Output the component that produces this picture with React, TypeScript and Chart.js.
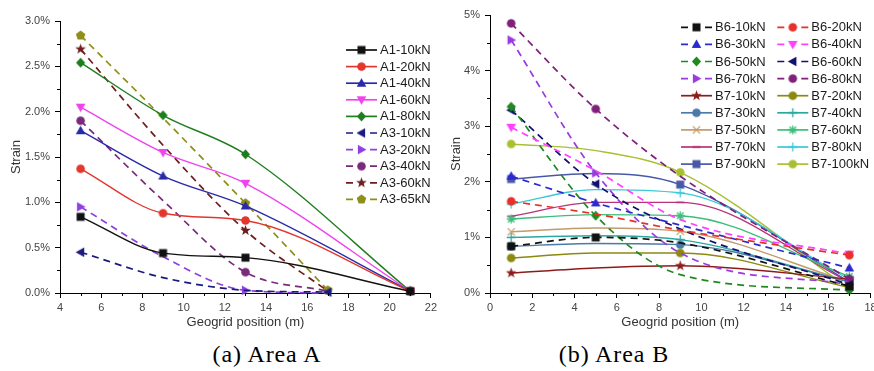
import React, { useEffect, useRef } from "react";
import { Chart, registerables } from "chart.js";

Chart.register(...registerables);

// ---------- Area A data ----------
const A1_POS = [5, 9, 13, 21];
const A3_POS = [5, 9, 13, 17];
const A1_10 = [0.84, 0.44, 0.39, 0.02];
const A1_20 = [1.37, 0.88, 0.8, 0.02];
const A1_40 = [1.79, 1.29, 0.96, 0.02];
const A1_60 = [2.05, 1.55, 1.21, 0.02];
const A1_80 = [2.54, 1.96, 1.53, 0.02];
const A3_10 = [0.45, 0.17, 0.03, 0.01];
const A3_20 = [0.95, 0.4, 0.03, 0.0];
const A3_40 = [1.9, 1.02, 0.23, 0.02];
const A3_60 = [2.69, 1.63, 0.69, 0.02];
const A3_65 = [2.84, 1.93, 0.99, 0.03];
const A_X_TICKS = { min: 4, max: 22, step: 2, minor: 1 };
const A_Y_TICKS = { min: 0, max: 3, step: 0.5, minor: 0.25 };

// ---------- Area B data ----------
const B_POS = [1, 5, 9, 17];
const B6_10 = [0.84, 1.0, 0.9, 0.12];
const B6_20 = [1.65, 1.42, 1.13, 0.68];
const B6_30 = [2.1, 1.62, 1.22, 0.45];
const B6_40 = [2.98, 2.2, 1.32, 0.7];
const B6_50 = [3.35, 1.39, 0.33, 0.05];
const B6_60 = [3.29, 1.96, 1.15, 0.15];
const B6_70 = [4.55, 2.16, 0.72, 0.15];
const B6_80 = [4.85, 3.31, 2.1, 0.25];
const B7_10 = [0.36, 0.45, 0.49, 0.25];
const B7_20 = [0.63, 0.72, 0.72, 0.1];
const B7_30 = [0.84, 0.89, 0.87, 0.2];
const B7_40 = [1.0, 1.03, 0.96, 0.2];
const B7_50 = [1.1, 1.17, 1.11, 0.2];
const B7_60 = [1.33, 1.41, 1.39, 0.3];
const B7_70 = [1.38, 1.63, 1.63, 0.2];
const B7_80 = [1.6, 1.86, 1.8, 0.25];
const B7_90 = [2.05, 2.15, 1.95, 0.2];
const B7_100 = [2.68, 2.56, 2.17, 0.08];
const B_X_TICKS = { min: 0, max: 18, step: 2, minor: 1 };
const B_Y_TICKS = { min: 0, max: 5, step: 1, minor: 0.5 };

type Series = {
  label: string;
  xs: number[];
  ys: number[];
  color: string;
  marker: string;
  dashed: boolean;
  hidden: number[];
};

const A_SERIES: Series[] = [
  { label: "A1-10kN", xs: A1_POS, ys: A1_10, color: "#111111", marker: "square", dashed: false, hidden: [] },
  { label: "A1-20kN", xs: A1_POS, ys: A1_20, color: "#e2362e", marker: "circle", dashed: false, hidden: [] },
  { label: "A1-40kN", xs: A1_POS, ys: A1_40, color: "#2a2aa8", marker: "triUp", dashed: false, hidden: [] },
  { label: "A1-60kN", xs: A1_POS, ys: A1_60, color: "#ee44ee", marker: "triDown", dashed: false, hidden: [] },
  { label: "A1-80kN", xs: A1_POS, ys: A1_80, color: "#1e7e1e", marker: "diamond", dashed: false, hidden: [] },
  { label: "A3-10kN", xs: A3_POS, ys: A3_10, color: "#1a1a80", marker: "triLeft", dashed: true, hidden: [1, 2] },
  { label: "A3-20kN", xs: A3_POS, ys: A3_20, color: "#9040e0", marker: "triRight", dashed: true, hidden: [1, 3] },
  { label: "A3-40kN", xs: A3_POS, ys: A3_40, color: "#7a2a7a", marker: "circle", dashed: true, hidden: [1, 3] },
  { label: "A3-60kN", xs: A3_POS, ys: A3_60, color: "#6e1e1e", marker: "star", dashed: true, hidden: [1, 3] },
  { label: "A3-65kN", xs: A3_POS, ys: A3_65, color: "#8e8e1a", marker: "pentagon", dashed: true, hidden: [1] },
];

const B_SERIES: Series[] = [
  { label: "B6-10kN", xs: B_POS, ys: B6_10, color: "#111111", marker: "square", dashed: true, hidden: [2] },
  { label: "B6-20kN", xs: B_POS, ys: B6_20, color: "#e8302a", marker: "circle", dashed: true, hidden: [1, 2] },
  { label: "B6-30kN", xs: B_POS, ys: B6_30, color: "#2a2ad0", marker: "triUp", dashed: true, hidden: [2] },
  { label: "B6-40kN", xs: B_POS, ys: B6_40, color: "#ff40ff", marker: "triDown", dashed: true, hidden: [1, 2] },
  { label: "B6-50kN", xs: B_POS, ys: B6_50, color: "#1f8a1f", marker: "diamond", dashed: true, hidden: [2] },
  { label: "B6-60kN", xs: B_POS, ys: B6_60, color: "#10106e", marker: "triLeft", dashed: true, hidden: [2] },
  { label: "B6-70kN", xs: B_POS, ys: B6_70, color: "#9a3ae0", marker: "triRight", dashed: true, hidden: [2] },
  { label: "B6-80kN", xs: B_POS, ys: B6_80, color: "#80207a", marker: "circle", dashed: true, hidden: [2] },
  { label: "B7-10kN", xs: B_POS, ys: B7_10, color: "#8b1c1c", marker: "star", dashed: false, hidden: [1] },
  { label: "B7-20kN", xs: B_POS, ys: B7_20, color: "#8a8a10", marker: "circle", dashed: false, hidden: [1] },
  { label: "B7-30kN", xs: B_POS, ys: B7_30, color: "#4a7aa8", marker: "circle", dashed: false, hidden: [1] },
  { label: "B7-40kN", xs: B_POS, ys: B7_40, color: "#2aa8a0", marker: "plus", dashed: false, hidden: [1] },
  { label: "B7-50kN", xs: B_POS, ys: B7_50, color: "#c49a6a", marker: "x", dashed: false, hidden: [1] },
  { label: "B7-60kN", xs: B_POS, ys: B7_60, color: "#3cbf7a", marker: "asterisk", dashed: false, hidden: [1] },
  { label: "B7-70kN", xs: B_POS, ys: B7_70, color: "#b8337a", marker: "dash", dashed: false, hidden: [1] },
  { label: "B7-80kN", xs: B_POS, ys: B7_80, color: "#3cc8d8", marker: "plus", dashed: false, hidden: [1] },
  { label: "B7-90kN", xs: B_POS, ys: B7_90, color: "#4a58a8", marker: "square", dashed: false, hidden: [1] },
  { label: "B7-100kN", xs: B_POS, ys: B7_100, color: "#a8c030", marker: "circle", dashed: false, hidden: [1] },
];

// ---------- marker drawing ----------
function poly(g: CanvasRenderingContext2D, pts: number[][]) {
  g.beginPath();
  pts.forEach((p, i) => (i ? g.lineTo(p[0], p[1]) : g.moveTo(p[0], p[1])));
  g.closePath();
  g.fill();
}
function drawShape(g: CanvasRenderingContext2D, shape: string, color: string) {
  g.fillStyle = color;
  g.strokeStyle = color;
  g.lineWidth = 1.3;
  switch (shape) {
    case "square":
      g.fillRect(-4, -4, 8, 8);
      break;
    case "circle":
      g.beginPath();
      g.arc(0, 0, 4.3, 0, Math.PI * 2);
      g.fill();
      break;
    case "triUp":
      poly(g, [[0, -5], [4.8, 3.6], [-4.8, 3.6]]);
      break;
    case "triDown":
      poly(g, [[0, 5], [4.8, -3.6], [-4.8, -3.6]]);
      break;
    case "triLeft":
      poly(g, [[-5, 0], [3.6, -4.8], [3.6, 4.8]]);
      break;
    case "triRight":
      poly(g, [[5, 0], [-3.6, -4.8], [-3.6, 4.8]]);
      break;
    case "diamond":
      poly(g, [[0, -5], [4.6, 0], [0, 5], [-4.6, 0]]);
      break;
    case "star": {
      const pts: number[][] = [];
      for (let i = 0; i < 10; i++) {
        const r = i % 2 === 0 ? 5.6 : 2.3;
        const a = -Math.PI / 2 + (i * Math.PI) / 5;
        pts.push([r * Math.cos(a), r * Math.sin(a)]);
      }
      poly(g, pts);
      break;
    }
    case "pentagon": {
      const pts: number[][] = [];
      for (let i = 0; i < 5; i++) {
        const a = -Math.PI / 2 + (i * 2 * Math.PI) / 5;
        pts.push([5 * Math.cos(a), 5 * Math.sin(a)]);
      }
      poly(g, pts);
      break;
    }
    case "plus":
      g.beginPath();
      g.moveTo(-4.5, 0); g.lineTo(4.5, 0);
      g.moveTo(0, -4.5); g.lineTo(0, 4.5);
      g.stroke();
      break;
    case "x":
      g.beginPath();
      g.moveTo(-3.6, -3.6); g.lineTo(3.6, 3.6);
      g.moveTo(-3.6, 3.6); g.lineTo(3.6, -3.6);
      g.stroke();
      break;
    case "asterisk":
      g.beginPath();
      g.moveTo(-4.5, 0); g.lineTo(4.5, 0);
      g.moveTo(0, -4.5); g.lineTo(0, 4.5);
      g.moveTo(-3.3, -3.3); g.lineTo(3.3, 3.3);
      g.moveTo(-3.3, 3.3); g.lineTo(3.3, -3.3);
      g.stroke();
      break;
    case "dash":
      g.lineWidth = 1.6;
      g.beginPath();
      g.moveTo(-4, 0); g.lineTo(4, 0);
      g.stroke();
      break;
  }
}
function markerImg(shape: string, color: string) {
  const c = document.createElement("canvas");
  c.width = 13;
  c.height = 13;
  const g = c.getContext("2d")!;
  g.translate(6.5, 6.5);
  drawShape(g, shape, color);
  return c;
}

// ---------- plugins ----------
const minorTicksPlugin = {
  id: "minorTicks",
  afterDraw(chart: any, _a: any, opts: any) {
    const { ctx, chartArea } = chart;
    const xs = chart.scales.x;
    const ys = chart.scales.y;
    ctx.save();
    ctx.strokeStyle = "#000";
    ctx.lineWidth = 1;
    ctx.beginPath();
    const xt = opts.x;
    for (let v = xt.min + xt.minor; v < xt.max; v += xt.minor) {
      const r = (v - xt.min) / xt.step;
      if (Math.abs(r - Math.round(r)) < 1e-6) continue;
      const px = Math.round(xs.getPixelForValue(v)) + 0.5;
      ctx.moveTo(px, chartArea.bottom);
      ctx.lineTo(px, chartArea.bottom + 3);
    }
    const yt = opts.y;
    for (let v = yt.min + yt.minor; v < yt.max; v += yt.minor) {
      const r = (v - yt.min) / yt.step;
      if (Math.abs(r - Math.round(r)) < 1e-6) continue;
      const py = Math.round(ys.getPixelForValue(v)) + 0.5;
      ctx.moveTo(chartArea.left, py);
      ctx.lineTo(chartArea.left - 3, py);
    }
    ctx.stroke();
    ctx.restore();
  },
};

const customLegendPlugin = {
  id: "customLegend",
  afterDraw(chart: any, _a: any, opts: any) {
    const { ctx } = chart;
    const items: Series[] = opts.items;
    ctx.save();
    ctx.font = "13px 'Liberation Sans', Arial, sans-serif";
    ctx.textBaseline = "middle";
    ctx.textAlign = "left";
    items.forEach((s, i) => {
      const col = i % opts.cols;
      const row = Math.floor(i / opts.cols);
      const x0 = opts.x + col * opts.colW;
      const y = opts.y + row * opts.rowH;
      const L = 31;
      ctx.strokeStyle = s.color;
      ctx.lineWidth = 1.7;
      ctx.beginPath();
      if (s.dashed) {
        ctx.moveTo(x0, y); ctx.lineTo(x0 + 7, y);
        ctx.moveTo(x0 + 24, y); ctx.lineTo(x0 + L, y);
      } else {
        ctx.moveTo(x0, y); ctx.lineTo(x0 + L, y);
      }
      ctx.stroke();
      const img = markerImg(s.marker, s.color);
      ctx.drawImage(img, x0 + L / 2 - 6.5, y - 6.5);
      ctx.fillStyle = "#1a1a1a";
      ctx.fillText(s.label, x0 + 34, y + 0.5);
    });
    ctx.restore();
  },
};

function buildDatasets(series: Series[]) {
  return series.map((s) => ({
    label: s.label,
    data: s.xs.map((x, i) => ({ x, y: s.ys[i] })),
    borderColor: s.color,
    backgroundColor: s.color,
    borderWidth: s.dashed ? 1.7 : 1.4,
    borderDash: s.dashed ? [7, 5] : [],
    pointStyle: markerImg(s.marker, s.color),
    pointRadius: s.xs.map((_, i) => (s.hidden.includes(i) ? 0 : 5)),
    pointHoverRadius: 5,
    cubicInterpolationMode: "monotone",
    clip: 10,
    fill: false,
  }));
}

const tickFont = { family: "'Liberation Sans', Arial, sans-serif", size: 11 };
const titleFont = { family: "'Liberation Sans', Arial, sans-serif", size: 13 };

function makeOptions(
  xt: any,
  yt: any,
  yFmt: (v: number) => string,
  yWidth: number,
  padding: any,
  legend: any
) {
  return {
    responsive: false,
    animation: false,
    devicePixelRatio: 1,
    layout: { padding },
    plugins: {
      legend: { display: false },
      tooltip: { enabled: false },
      minorTicks: { x: xt, y: yt },
      customLegend: legend,
    },
    scales: {
      x: {
        type: "linear",
        min: xt.min,
        max: xt.max,
        afterFit: (s: any) => {
          s.height = 42;
        },
        ticks: { stepSize: xt.step, color: "#444", font: tickFont, padding: 3, maxRotation: 0 },
        grid: { display: true, drawOnChartArea: false, drawTicks: true, tickLength: 5, color: "#000" },
        border: { display: true, color: "#000", width: 1 },
        title: {
          display: true,
          text: "Geogrid position (m)",
          color: "#333",
          font: titleFont,
          padding: { top: 0, bottom: 5 },
        },
      },
      y: {
        type: "linear",
        min: yt.min,
        max: yt.max,
        afterFit: (s: any) => {
          s.width = yWidth;
        },
        ticks: { stepSize: yt.step, color: "#444", font: tickFont, padding: 5, callback: (v: any) => yFmt(Number(v)) },
        grid: { display: true, drawOnChartArea: false, drawTicks: true, tickLength: 5, color: "#000" },
        border: { display: true, color: "#000", width: 1 },
        title: {
          display: true,
          text: "Strain",
          color: "#333",
          font: titleFont,
          padding: { top: 9, bottom: 0 },
        },
      },
    },
  };
}

export default function App() {
  const refA = useRef<HTMLCanvasElement>(null);
  const refB = useRef<HTMLCanvasElement>(null);

  useEffect(() => {
    const chartA = new Chart(refA.current!, {
      type: "line",
      data: { datasets: buildDatasets(A_SERIES) as any },
      options: makeOptions(
        A_X_TICKS,
        A_Y_TICKS,
        (v) => v.toFixed(1) + "%",
        60,
        { left: 0, right: 8, top: 21, bottom: 0 },
        { items: A_SERIES, x: 346, y: 50, cols: 1, colW: 0, rowH: 16.6 }
      ) as any,
      plugins: [minorTicksPlugin, customLegendPlugin],
    });
    const chartB = new Chart(refB.current!, {
      type: "line",
      data: { datasets: buildDatasets(B_SERIES) as any },
      options: makeOptions(
        B_X_TICKS,
        B_Y_TICKS,
        (v) => v + "%",
        50,
        { left: 0, right: 19.5, top: 15, bottom: 0 },
        { items: B_SERIES, x: 241, y: 27.3, cols: 2, colW: 96.3, rowH: 17.1 }
      ) as any,
      plugins: [minorTicksPlugin, customLegendPlugin],
    });
    return () => {
      chartA.destroy();
      chartB.destroy();
    };
  }, []);

  const capStyle: React.CSSProperties = {
    position: "absolute",
    top: 340,
    width: 200,
    textAlign: "center",
    fontFamily: "'Liberation Serif', 'Times New Roman', serif",
    fontSize: 24,
    letterSpacing: 0.9,
    lineHeight: "28px",
    color: "#000",
  };

  return (
    <div
      style={{
        position: "fixed",
        left: 0,
        top: 0,
        width: 874,
        height: 371,
        background: "#fff",
        overflow: "hidden",
      }}
    >
      <canvas ref={refA} width={440} height={335} style={{ position: "absolute", left: 0, top: 0 }} />
      <div style={{ position: "absolute", left: 440, top: 0, width: 434, height: 335, overflow: "hidden" }}>
        <canvas ref={refB} width={450} height={335} style={{ position: "absolute", left: 0, top: 0 }} />
      </div>
      <div style={{ ...capStyle, left: 167 }}>(a) Area A</div>
      <div style={{ ...capStyle, left: 514 }}>(b) Area B</div>
    </div>
  );
}
